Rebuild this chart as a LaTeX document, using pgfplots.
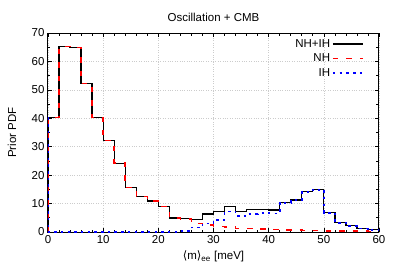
\documentclass[border=0pt]{standalone}
\usepackage{fontspec}
\setmainfont{Liberation Sans}
\newfontfamily\dejavu{DejaVu Sans}
\usepackage{pgfplots}
\pgfplotsset{compat=1.18}
\begin{document}
\begin{tikzpicture}[font=\fontsize{11.5bp}{13.5bp}\selectfont]
\begin{axis}[
  at={(0,0)}, anchor=south west,
  scale only axis, width=331bp, height=199bp,
  xmin=0, xmax=60, ymin=0, ymax=70,
  xtick={0,10,...,60}, ytick={0,10,...,70},
  minor x tick num=4, minor y tick num=1,
  tick align=inside, major tick length=4bp, minor tick length=2.5bp,
  tick style={black, line width=0.6bp},
  grid=major, major grid style={gray!40, dotted, line width=0.6bp},
  axis line style={line width=1bp},
  /pgf/number format/assume math mode=true,
  title={Oscillation + CMB},
  title style={yshift=2bp},
  xlabel={{\dejavu ⟨}m{\dejavu ⟩}\textsubscript{ee} [meV]},
  ylabel={Prior PDF},
  every axis y label/.append style={at={(axis description cs:-0.109,0.5)}, anchor=center},
  legend style={at={(0.958,0.985)}, anchor=north east, draw=none, fill=none, inner sep=1bp, row sep=1.2bp},
  legend plot pos=right,
  legend cell align=right,
  legend image code/.code={\draw[#1] (0bp,0bp) -- (30bp,0bp);},
  const plot,
]
\addplot[black, line width=1.3bp] coordinates {
(0,0) (0,40.3) (2,65.3) (4,64.9) (6,52.2) (8,40.2) (10,32.1) (12,24.2) (14,15.6) (16,12.5) (18,10.9)
(20,9.0) (22,4.9) (24,4.8) (26,4.5) (28,6.3) (30,7.2) (32,9.0) (34,7.3) (36,7.9) (38,7.9)
(40,7.7) (42,10.5) (44,11.3) (46,14.2) (48,15.0) (50,6.9) (52,3.4) (54,2.2) (56,1.3) (58,0.8) (60,0.8)
};
\addlegendentry{NH+IH}
\addplot[red, line width=1.5bp, dash pattern=on 5.5bp off 8bp] coordinates {
(0,0) (0,40.3) (2,65.3) (4,64.9) (6,52.2) (8,40.2) (10,32.1) (12,24.2) (14,15.6) (16,12.5) (18,10.9)
(20,9.0) (22,4.9) (24,4.6) (26,3.0) (28,2.5) (30,2.0) (32,1.7) (34,1.3) (36,1.2) (38,1.0)
(40,0.9) (42,0.7) (44,0.7) (46,0.5) (48,0.5) (50,0.4) (52,0.4) (54,0.3) (56,0.3) (58,0.2) (60,0.2)
};
\addlegendentry{NH}
\addplot[blue, line width=1.8bp, dash pattern=on 2.5bp off 4.2bp] coordinates {
(0,40.3) (0,0.05) (2,0.05) (4,0.05) (6,0.05) (8,0.05) (10,0.05) (12,0.05) (14,0.05) (16,0.05) (18,0.05)
(20,0.05) (22,0.1) (24,0.3) (26,1.6) (28,3.0) (30,4.3) (32,7.2) (34,5.7) (36,6.4) (38,6.6)
(40,6.5) (42,10.3) (44,11.2) (46,14.1) (48,14.9) (50,6.8) (52,3.3) (54,2.1) (56,1.2) (58,0.6) (60,0.6)
};
\addlegendentry{IH}
\end{axis}
\pgfresetboundingbox
\path (-48bp,-47bp) rectangle (351bp,232bp);
\end{tikzpicture}
\end{document}
